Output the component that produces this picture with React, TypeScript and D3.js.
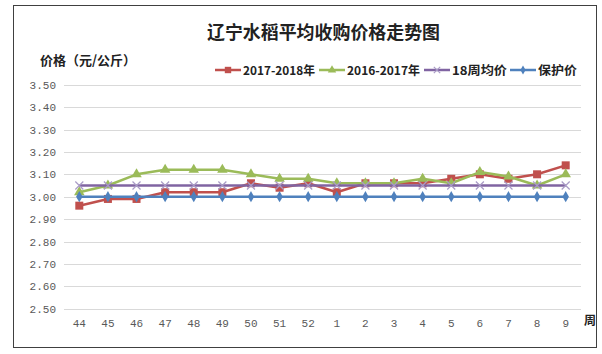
import React, { useEffect, useRef } from 'react';
import * as d3 from 'd3';

const weeks = ['44', '45', '46', '47', '48', '49', '50', '51', '52', '1', '2', '3', '4', '5', '6', '7', '8', '9'];
const price1718 = [2.96, 2.99, 2.99, 3.02, 3.02, 3.02, 3.06, 3.04, 3.06, 3.02, 3.06, 3.06, 3.06, 3.08, 3.1, 3.08, 3.1, 3.14];
const price1617 = [3.02, 3.05, 3.1, 3.12, 3.12, 3.12, 3.1, 3.08, 3.08, 3.06, 3.06, 3.06, 3.08, 3.06, 3.11, 3.09, 3.05, 3.1];
const avg18 = [3.05, 3.05, 3.05, 3.05, 3.05, 3.05, 3.05, 3.05, 3.05, 3.05, 3.05, 3.05, 3.05, 3.05, 3.05, 3.05, 3.05, 3.05];
const protect = [3.0, 3.0, 3.0, 3.0, 3.0, 3.0, 3.0, 3.0, 3.0, 3.0, 3.0, 3.0, 3.0, 3.0, 3.0, 3.0, 3.0, 3.0];
const yTicks = [2.5, 2.6, 2.7, 2.8, 2.9, 3.0, 3.1, 3.2, 3.3, 3.4, 3.5];

const series = [
  { name: '2017-2018年', values: price1718, color: '#C0504D', marker: 'square' },
  { name: '2016-2017年', values: price1617, color: '#9BBB59', marker: 'triangle' },
  { name: '18周均价', values: avg18, color: '#8064A2', marker: 'x' },
  { name: '保护价', values: protect, color: '#4F81BD', marker: 'diamond' },
];

const cjk = '"Noto Sans CJK SC", sans-serif';

const drawMarker = (g, type, x, y, color, k = 1) => {
  if (type === 'square') {
    g.append('rect').attr('x', x - 4 * k).attr('y', y - 4 * k).attr('width', 8 * k).attr('height', 8 * k).attr('fill', color);
  } else if (type === 'triangle') {
    g.append('path').attr('d', d3.symbol(d3.symbolTriangle, 48 * k * k)()).attr('transform', `translate(${x},${y})`).attr('fill', color);
  } else if (type === 'diamond') {
    g.append('path').attr('d', d3.symbol(d3.symbolDiamond, 36 * k * k)()).attr('transform', `translate(${x},${y})`).attr('fill', color);
  } else {
    const r = 4 * k;
    g.append('path').attr('d', `M${x - r},${y - r}L${x + r},${y + r}M${x - r},${y + r}L${x + r},${y - r}`)
      .attr('stroke', '#A99BC6').attr('stroke-width', 1.2);
  }
};

const App = () => {
  const svgRef = useRef(null);

  useEffect(() => {
    const svg = d3.select(svgRef.current);
    svg.selectAll('*').remove();

    svg.append('rect').attr('x', 13.5).attr('y', 5.5).attr('width', 583).attr('height', 342)
      .attr('fill', '#fff').attr('stroke', '#404040').attr('stroke-width', 1);

    const x = d3.scaleBand().domain(weeks).range([65, 580]).padding(0);
    const y = d3.scaleLinear().domain([2.5, 3.5]).range([308.7, 84.7]);
    const cx = (w) => x(w) + x.bandwidth() / 2;

    // gridlines
    svg.append('g').selectAll('line').data(yTicks).enter().append('line')
      .attr('x1', 64).attr('x2', 581)
      .attr('y1', (d) => Math.round(y(d)) + 0.5).attr('y2', (d) => Math.round(y(d)) + 0.5)
      .attr('stroke', '#d9d9d9').attr('stroke-width', 1);

    svg.append('g').selectAll('text').data(yTicks).enter().append('text')
      .attr('x', 56).attr('y', (d) => y(d) + 4)
      .attr('text-anchor', 'end').attr('font-size', 11).attr('fill', '#595959')
      .attr('font-family', '"Liberation Mono", monospace')
      .text((d) => d.toFixed(2));

    svg.append('g').selectAll('text').data(weeks).enter().append('text')
      .attr('x', (d) => cx(d)).attr('y', 327)
      .attr('text-anchor', 'middle').attr('font-size', 11).attr('fill', '#595959')
      .attr('font-family', '"Liberation Mono", monospace')
      .text((d) => d);

    const line = d3.line().x((d, i) => cx(weeks[i])).y((d) => y(d));

    series.forEach((s) => {
      const g = svg.append('g');
      g.append('path').datum(s.values).attr('d', line)
        .attr('fill', 'none').attr('stroke', s.color).attr('stroke-width', 2.5).attr('stroke-linejoin', 'round');
      s.values.forEach((v, i) => drawMarker(g, s.marker, cx(weeks[i]), y(v), s.color));
    });

    // titles
    svg.append('text').attr('x', 323.5).attr('y', 39).attr('text-anchor', 'middle')
      .attr('font-size', 18).attr('font-weight', 'bold').attr('font-family', cjk).attr('fill', '#222')
      .attr('textLength', 233).attr('lengthAdjust', 'spacingAndGlyphs')
      .text('辽宁水稻平均收购价格走势图');
    svg.append('text').attr('x', 40).attr('y', 65)
      .attr('font-size', 13).attr('font-weight', 'bold').attr('font-family', cjk).attr('fill', '#222')
      .text('价格（元/公斤）');
    svg.append('text').attr('x', 590).attr('y', 325).attr('text-anchor', 'middle')
      .attr('font-size', 12).attr('font-weight', 'bold').attr('font-family', cjk).attr('fill', '#222')
      .text('周');

    // legend
    const legendX = [215, 319, 424, 510];
    const legendW = [72, 73, 55, 39];
    series.forEach((s, i) => {
      const g = svg.append('g');
      const lx = legendX[i];
      g.append('line').attr('x1', lx).attr('x2', lx + 26).attr('y1', 70).attr('y2', 70)
        .attr('stroke', s.color).attr('stroke-width', 2.5);
      drawMarker(g, s.marker, lx + 13, 70, s.color, 0.8);
      g.append('text').attr('x', lx + 28).attr('y', 74.5)
        .attr('font-size', 12).attr('font-weight', 'bold').attr('font-family', cjk).attr('fill', '#222')
        .attr('textLength', legendW[i]).attr('lengthAdjust', 'spacingAndGlyphs')
        .text(s.name);
    });
  }, []);

  return (
    <svg ref={svgRef} width={602} height={354} style={{ position: 'absolute', left: 0, top: 0 }}></svg>
  );
};

export default App;
